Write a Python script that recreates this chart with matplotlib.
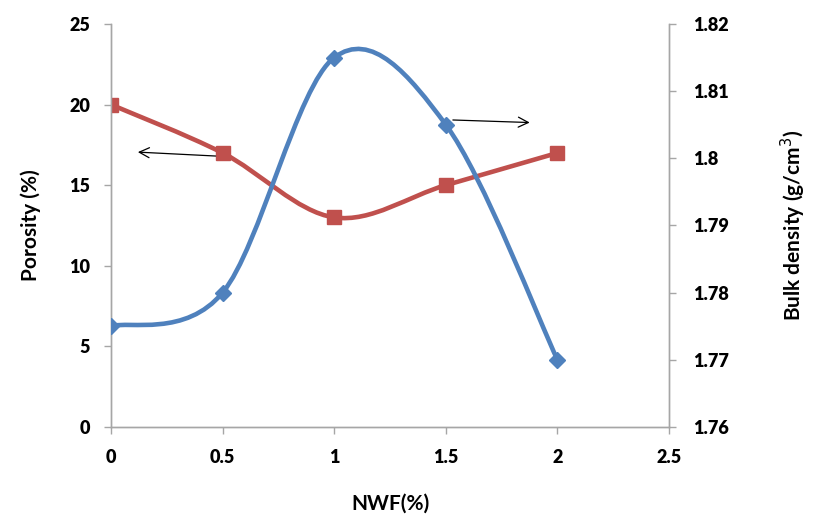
import matplotlib
matplotlib.use("Agg")
import matplotlib.pyplot as plt
from matplotlib.path import Path
from matplotlib.patches import PathPatch
import numpy as np

nwf = [0, 0.5, 1, 1.5, 2]
porosity = [20, 17, 13, 15, 17]
bulk_density = [1.775, 1.780, 1.815, 1.805, 1.770]

left_ticks = [0, 5, 10, 15, 20, 25]
right_ticks = [1.76, 1.77, 1.78, 1.79, 1.80, 1.81, 1.82]
right_tick_labels = ["1.76", "1.77", "1.78", "1.79", "1.8", "1.81", "1.82"]
x_ticks = [0, 0.5, 1, 1.5, 2, 2.5]
x_tick_labels = ["0", "0.5", "1", "1.5", "2", "2.5"]

RED = "#C0504D"
BLUE = "#4F81BD"
GRAY = "#A6A6A6"
FONT = ["Lato", "DejaVu Sans"]


def smooth_path(xs, ys):
    pts = np.column_stack([xs, ys]).astype(float)
    n = len(pts)
    verts = [pts[0]]
    codes = [Path.MOVETO]
    for i in range(n - 1):
        p0 = pts[i - 1] if i > 0 else pts[i]
        p1 = pts[i]
        p2 = pts[i + 1]
        p3 = pts[i + 2] if i + 2 < n else pts[i + 1]
        c1 = p1 + (p2 - p0) / 6.0
        c2 = p2 - (p3 - p1) / 6.0
        verts += [c1, c2, p2]
        codes += [Path.CURVE4] * 3
    return Path(verts, codes)


fig = plt.figure(figsize=(8.13, 5.21), dpi=100)
ax = fig.add_axes([0.1365, 0.1804, 0.6865, 0.7736])
ax2 = ax.twinx()

ax.set_xlim(0, 2.5)
ax.set_ylim(0, 25)
ax2.set_ylim(1.76, 1.82)

# Porosity (left axis)
ax.add_patch(PathPatch(smooth_path(nwf, porosity), facecolor="none",
                       edgecolor=RED, lw=3.3, capstyle="round", zorder=3))
ax.plot(nwf, porosity, linestyle="none", marker="s", markersize=10,
        color=RED, zorder=4)

# Bulk density (right axis)
ax2.add_patch(PathPatch(smooth_path(nwf, bulk_density), facecolor="none",
                        edgecolor=BLUE, lw=3.3, capstyle="round", zorder=3))
ax2.plot(nwf, bulk_density, linestyle="none", marker="D", markersize=8.5,
         color=BLUE, zorder=4)

# arrows
ax.annotate("", xy=(0.108, 17.06), xytext=(0.481, 16.8),
            arrowprops=dict(arrowstyle="->", color="black", lw=0.9,
                            mutation_scale=18), zorder=5)
ax.annotate("", xy=(1.888, 18.88), xytext=(1.519, 19.05),
            arrowprops=dict(arrowstyle="->", color="black", lw=0.9,
                            mutation_scale=18), zorder=5)

for a in (ax, ax2):
    a.spines["top"].set_visible(False)
    for s in ("left", "right", "bottom"):
        a.spines[s].set_color(GRAY)
        a.spines[s].set_linewidth(1.0)
    a.tick_params(colors=GRAY, length=5, width=1, direction="out")

ax.set_xticks(x_ticks)
ax.set_xticklabels(x_tick_labels)
ax.set_yticks(left_ticks)
ax.set_yticklabels([str(t) for t in left_ticks])
ax2.set_yticks(right_ticks)
ax2.set_yticklabels(right_tick_labels)

for lbl in ax.get_xticklabels() + ax.get_yticklabels() + ax2.get_yticklabels():
    lbl.set_fontfamily(FONT)
    lbl.set_fontweight("heavy")
    lbl.set_fontsize(13)
    lbl.set_color("black")

ax.tick_params(axis="x", pad=11)
ax.tick_params(axis="y", pad=10)
ax2.tick_params(axis="y", pad=12)

ax.set_xlabel("NWF(%)", family=FONT, fontweight="bold", fontsize=15, labelpad=20)
ax.set_ylabel("Porosity (%)", family=FONT, fontweight="bold", fontsize=15, labelpad=20)
ax2.set_ylabel("Bulk density (g/cm$^3$)", family=FONT, fontweight="bold",
               fontsize=15, labelpad=36)

fig.savefig("out.png", dpi=100, facecolor="white")
